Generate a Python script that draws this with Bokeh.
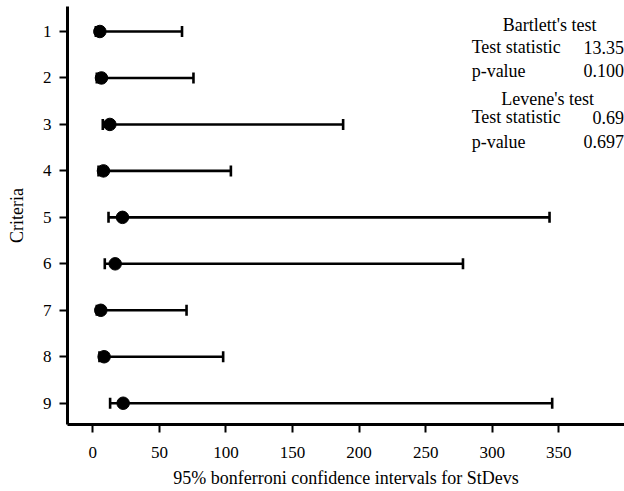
from bokeh.plotting import figure
from bokeh.models import Range1d, FixedTicker, ColumnDataSource
from bokeh.core.properties import value
from bokeh.embed import file_html
from bokeh.resources import INLINE
import math

criteria = [1, 2, 3, 4, 5, 6, 7, 8, 9]
stdev = [5.3, 6.5, 12.8, 8.0, 22.3, 16.8, 6.0, 8.5, 22.8]
lower = [2.3, 3.0, 7.5, 4.3, 11.8, 9.0, 3.0, 5.0, 13.0]
upper = [67.0, 75.6, 188.0, 103.7, 343.0, 278.0, 70.4, 97.9, 345.0]
x_ticks = [0, 50, 100, 150, 200, 250, 300, 350]

ann_text = ["Bartlett's test", "Test statistic", "13.35", "p-value", "0.100",
            "Levene's test", "Test statistic", "0.69", "p-value", "0.697"]
ann_x = [343, 284.5, 399, 284.5, 399, 341.5, 284.5, 399, 284.5, 399]
ann_y = [0.85, 1.344, 1.344, 1.84, 1.84, 2.46, 2.85, 2.85, 3.37, 3.37]
ann_align = ["center", "left", "right", "left", "right",
             "center", "left", "right", "left", "right"]

FONT = "Liberation Serif"

p = figure(width=624, height=491, output_backend="svg", toolbar_location=None,
           x_range=Range1d(-19, 399.3), y_range=Range1d(9.458, 0.462))
p.min_border_left = 67
p.min_border_right = 0
p.min_border_top = 6
p.min_border_bottom = 67
p.outline_line_color = None
p.grid.visible = False
p.background_fill_color = "white"
p.border_fill_color = "white"

src = ColumnDataSource(dict(y=criteria, s=stdev, lo=lower, hi=upper))
p.segment(x0="lo", y0="y", x1="hi", y1="y", source=src, line_color="black", line_width=2.6)
p.scatter(x="lo", y="y", source=src, marker="dash", size=11, angle=math.pi / 2,
          line_color="black", line_width=2.6)
p.scatter(x="hi", y="y", source=src, marker="dash", size=11, angle=math.pi / 2,
          line_color="black", line_width=2.6)
p.scatter(x="s", y="y", source=src, marker="circle", size=12.5,
          fill_color="black", line_color="black")

asrc = ColumnDataSource(dict(x=ann_x, y=ann_y, t=ann_text, a=ann_align))
p.text(x="x", y="y", text="t", text_align="a", source=asrc, text_baseline="middle",
       text_font=value(FONT), text_font_size="18px", text_color="black")

for ax in (p.xaxis[0], p.yaxis[0]):
    ax.axis_line_width = 3
    ax.axis_line_color = "black"
    ax.major_tick_line_width = 2
    ax.major_tick_line_color = "black"
    ax.major_tick_out = 8
    ax.major_tick_in = 0
    ax.minor_tick_line_color = None
    ax.major_label_text_font = FONT
    ax.major_label_text_font_size = "17px"
    ax.major_label_text_color = "black"
    ax.axis_label_text_font = FONT
    ax.axis_label_text_font_style = "normal"
    ax.axis_label_text_color = "black"
    ax.axis_label_text_font_size = "18px"

p.xaxis.ticker = FixedTicker(ticks=x_ticks)
p.yaxis.ticker = FixedTicker(ticks=criteria)
p.xaxis.major_label_standoff = 14
p.yaxis.major_label_standoff = 8
p.xaxis.axis_label = "95% bonferroni confidence intervals for StDevs"
p.yaxis.axis_label = "Criteria"
p.xaxis.axis_label_standoff = 7
p.yaxis.axis_label_standoff = 13

open("out.html", "w").write(file_html(p, INLINE))
